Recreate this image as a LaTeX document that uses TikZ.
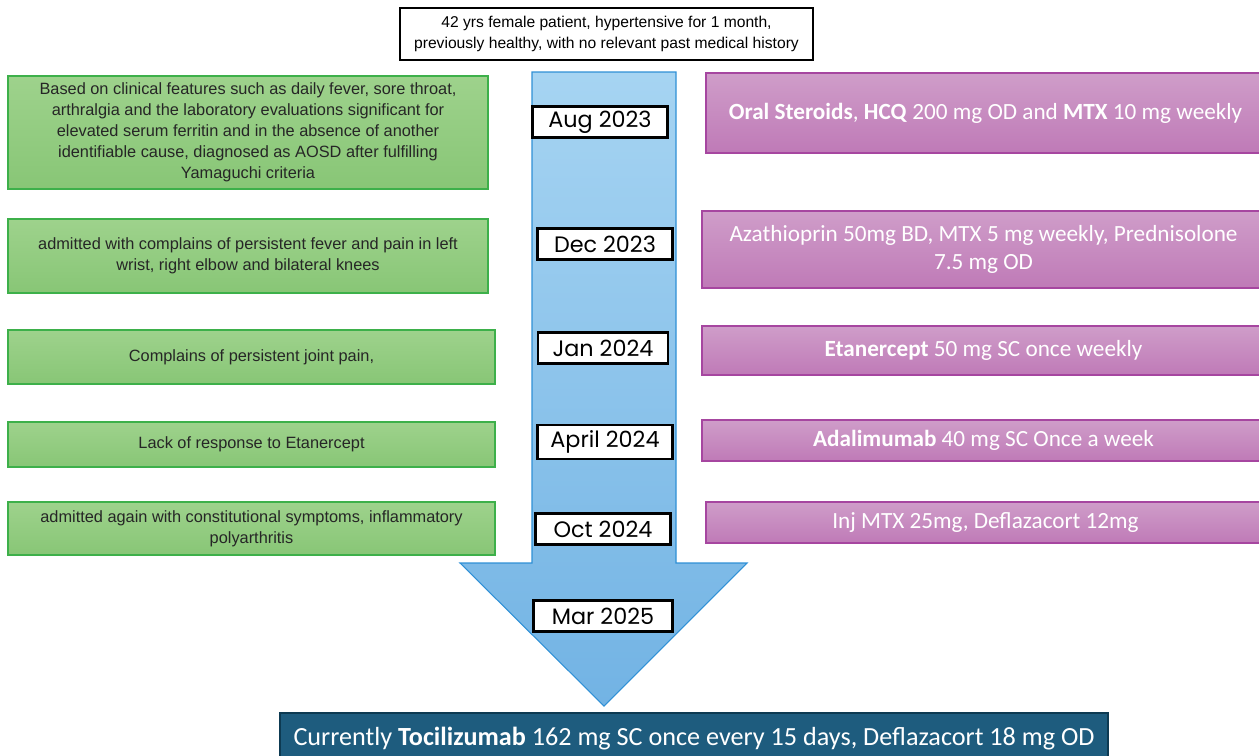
\documentclass[tikz,border=0pt]{standalone}
\usepackage{fontspec}
\setmainfont{Liberation Sans}
\newfontfamily\calfont{Carlito}
\newfontfamily\datefont{Poppins}
\usepackage{tikz}
\usetikzlibrary{positioning}
\definecolor{grnfill}{HTML}{9ED28C}
\definecolor{grnfilldk}{HTML}{88C676}
\definecolor{grnline}{HTML}{3DB04A}
\definecolor{purfill}{HTML}{CF9DC9}
\definecolor{purfilldk}{HTML}{BF7AB7}
\definecolor{purline}{HTML}{A646A0}
\definecolor{arrtop}{HTML}{A6D4F2}
\definecolor{arrbot}{HTML}{72B3E4}
\definecolor{arrline}{HTML}{2F90D6}
\definecolor{curfill}{HTML}{1E5C7E}
\definecolor{curline}{HTML}{0D3A52}

\begin{document}
\begin{tikzpicture}
		[x=0.02cm,y=-0.02cm,
		 info/.style={rectangle,draw=black,line width=1.2pt,fill=white,align=center,inner sep=2pt,font=\fontsize{8.9}{12}\selectfont},
		 finding/.style={rectangle,draw=grnline,line width=0.7pt,top color=grnfill,bottom color=grnfilldk,align=center,inner sep=2pt,font=\fontsize{9.3}{12}\selectfont,text=black!85},
		 therapy/.style={rectangle,draw=purline,line width=0.7pt,top color=purfill,bottom color=purfilldk,align=center,inner sep=2pt,font=\calfont\fontsize{13.2}{15.8}\selectfont,text=white},
		 datebox/.style={rectangle,draw=black,line width=1.2pt,fill=white,minimum width=2.7cm,minimum height=0.62cm,inner sep=0pt,font=\datefont\fontsize{12.7}{14}\selectfont},
		 current/.style={rectangle,draw=curline,line width=0.8pt,fill=curfill,text=white,inner sep=2pt,font=\calfont\fontsize{14.9}{17}\selectfont}]
		\useasboundingbox (0,0) rectangle (1259,755);
		\clip (0,0) rectangle (1259,755);
		
		% timeline arrow
		\draw[arrline,line width=0.6pt,top color=arrtop,bottom color=arrbot]
		(532,72) -- (676,72) -- (676,563) -- (747,563) -- (604,706) -- (460,563) -- (532,563) -- cycle;
		
		\node[info,minimum width=8.26cm,minimum height=1.04cm] (hist) at (606.5,34) {42 yrs female patient, hypertensive for 1 month,\\previously healthy, with no relevant past medical history};
		
		% dates
		\node[datebox] (d0) at (600,122) {Aug 2023};
		\node[datebox] (d1) at (605,244) {Dec 2023};
		\node[datebox,minimum width=2.6cm] (d2) at (603,348) {Jan 2024};
		\node[datebox,minimum height=0.68cm] (d3) at (605,442) {April 2024};
		\node[datebox] (d4) at (603,529) {Oct 2024};
		\node[datebox,minimum width=2.78cm] (d5) at (603,616) {Mar 2025};
		
		% clinical course
		\node[finding,minimum width=9.6cm,minimum height=2.26cm] (f0) at (248,132.5) {Based on clinical features such as daily fever, sore throat,\\arthralgia and the laboratory evaluations significant for\\elevated serum ferritin and in the absence of another\\identifiable cause, diagnosed as AOSD after fulfilling\\Yamaguchi criteria};
		\node[finding,minimum width=9.6cm,minimum height=1.48cm] (f1) at (248,256) {admitted with complains of persistent fever and pain in left\\wrist, right elbow and bilateral knees};
		\node[finding,minimum width=9.74cm,minimum height=1.08cm] (f2) at (251.5,357) {Complains of persistent joint pain,};
		\node[finding,minimum width=9.74cm,minimum height=0.9cm] (f3) at (251.5,444.5) {Lack of response to Etanercept};
		\node[finding,minimum width=9.74cm,minimum height=1.06cm] (f4) at (251.5,528.5) {admitted again with constitutional symptoms, inflammatory\\polyarthritis};
		
		% treatment
		\node[therapy,minimum width=11.18cm,minimum height=1.6cm] (t0) at (985.5,113) {\textbf{Oral Steroids}, \textbf{HCQ} 200 mg OD and \textbf{MTX} 10 mg weekly};
		\node[therapy,minimum width=11.26cm,minimum height=1.54cm] (t1) at (983.5,249.5) {Azathioprin 50mg BD, MTX 5 mg weekly, Prednisolone\\7.5 mg OD};
		\node[therapy,minimum width=11.26cm,minimum height=0.98cm] (t2) at (983.5,350.5) {\textbf{Etanercept} 50 mg SC once weekly};
		\node[therapy,minimum width=11.26cm,minimum height=0.82cm] (t3) at (983.5,440.5) {\textbf{Adalimumab} 40 mg SC Once a week};
		\node[therapy,minimum width=11.18cm,minimum height=0.82cm] (t4) at (985.5,522.5) {Inj MTX 25mg, Deflazacort 12mg};
		
		\node[current,minimum width=16.56cm,minimum height=1.04cm] (cur) at (694,739) {Currently \textbf{Tocilizumab} 162 mg SC once every 15 days, Deflazacort 18 mg OD};
		
	\end{tikzpicture}
\end{document}
